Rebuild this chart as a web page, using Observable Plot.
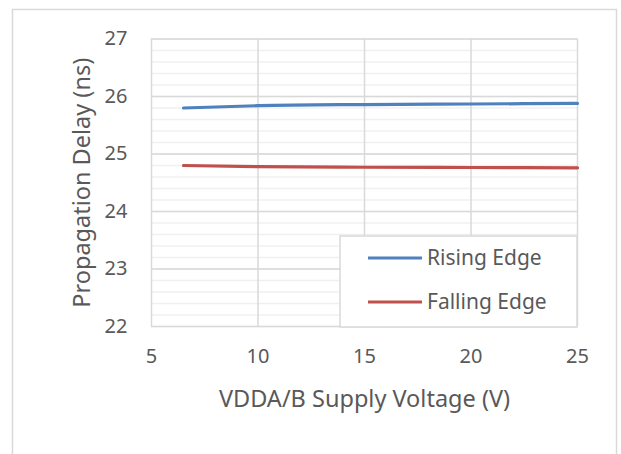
<!DOCTYPE html>
<html>
<head>
<meta charset="utf-8">
<script src="https://cdn.jsdelivr.net/npm/d3@7"></script>
<script src="https://cdn.jsdelivr.net/npm/@observablehq/plot@0.6"></script>
<style>
  html, body { margin: 0; padding: 0; background: #fff; }
</style>
</head>
<body>
<div id="chart"></div>
<script>
// Data
const voltages = [6.5, 10, 15, 20, 25];
const risingEdge = [25.80, 25.84, 25.86, 25.87, 25.88];
const fallingEdge = [24.80, 24.78, 24.77, 24.765, 24.76];
const seriesNames = ["Rising Edge", "Falling Edge"];
const seriesColors = ["#4f81bd", "#c0504d"];
const xTicks = [5, 10, 15, 20, 25];
const yTicks = [22, 23, 24, 25, 26, 27];
const yMinorTicks = d3.range(22, 27.001, 0.2).map(v => +v.toFixed(1));
const xTitle = "VDDA/B Supply Voltage (V)";
const yTitle = "Propagation Delay (ns)";

const rows = [];
voltages.forEach((v, i) => {
  rows.push({v, d: risingEdge[i], s: seriesNames[0]});
});
voltages.forEach((v, i) => {
  rows.push({v, d: fallingEdge[i], s: seriesNames[1]});
});

const textColor = "#595959";
const gridMajor = "#d9d9d9";
const gridMinor = "#f0f0f0";

const plot = Plot.plot({
  width: 621,
  height: 454,
  marginLeft: 151,
  marginRight: 44,
  marginTop: 38.5,
  marginBottom: 128,
  style: {fontFamily: "Noto Sans", fontSize: "20px", color: textColor, background: "#fff"},
  x: {domain: [5, 25]},
  y: {domain: [22, 27]},
  marks: [
    Plot.ruleY(yMinorTicks, {stroke: gridMinor, strokeWidth: 1.5}),
    Plot.ruleY(yTicks, {stroke: gridMajor, strokeWidth: 1.5}),
    Plot.ruleX(xTicks, {stroke: gridMajor, strokeWidth: 1.5}),
    Plot.axisY({
      ticks: yTicks, tickSize: 0, tickPadding: 24, tickFormat: d => d,
      fontSize: 20, fill: textColor, label: null
    }),
    Plot.axisX({
      ticks: xTicks, tickSize: 0, tickPadding: 22, tickFormat: d => d,
      fontSize: 20, fill: textColor, label: null
    }),
    Plot.text([xTitle], {text: d => d, frameAnchor: "bottom", dy: 73, fontSize: 23.5, fill: textColor, lineAnchor: "middle"}),
    Plot.text([yTitle], {text: d => d, frameAnchor: "left", dx: -69, rotate: -90, fontSize: 23.5, fill: textColor, lineAnchor: "middle", textAnchor: "middle"}),
    Plot.line(rows, {x: "v", y: "d", z: "s", stroke: "s", strokeWidth: 3.2, curve: "monotone-x"})
  ],
  color: {domain: seriesNames, range: seriesColors}
});

document.getElementById("chart").appendChild(plot);

const svg = d3.select(plot);
// Outer chart border
svg.append("rect")
  .attr("x", 12.5).attr("y", 9.5).attr("width", 604).attr("height", 470)
  .attr("fill", "none").attr("stroke", gridMajor).attr("stroke-width", 1.5);

// Legend
const lg = svg.append("g");
lg.append("rect")
  .attr("x", 340).attr("y", 236).attr("width", 237).attr("height", 91)
  .attr("fill", "#fff").attr("stroke", gridMajor).attr("stroke-width", 1.5);
seriesNames.forEach((name, i) => {
  const y = 258 + i * 44;
  lg.append("line").attr("x1", 368).attr("x2", 422).attr("y1", y).attr("y2", y)
    .attr("stroke", seriesColors[i]).attr("stroke-width", 3.2);
  lg.append("text").attr("x", 427).attr("y", y).attr("dy", "0.35em")
    .attr("text-anchor", "start")
    .attr("fill", textColor).style("font-size", "21px").style("font-family", "Noto Sans")
    .text(name);
});
</script>
</body>
</html>
